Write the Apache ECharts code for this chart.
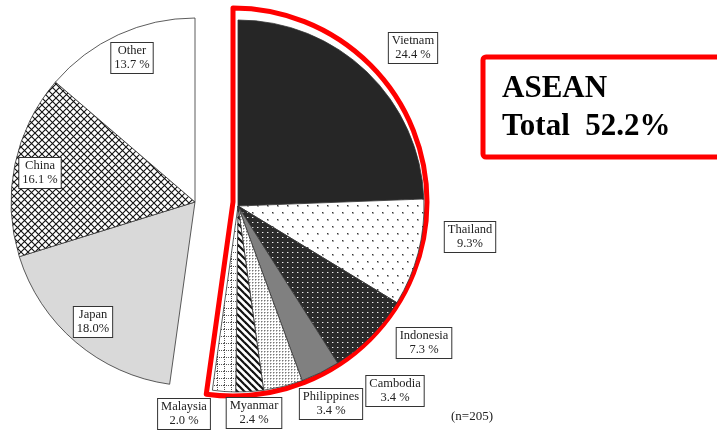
<!DOCTYPE html>
<html>
<head>
<meta charset="utf-8">
<script src="https://cdn.jsdelivr.net/npm/echarts@6/dist/echarts.min.js"></script>
<style>
  html, body { margin: 0; padding: 0; background: #fff; }
  #chart { width: 717px; height: 430px; }
</style>
</head>
<body>
<div id="chart"></div>
<script>
// Share of respondents by country (%), n = 205
const aseanNames = ['Vietnam', 'Thailand', 'Indonesia', 'Cambodia', 'Philippines', 'Myanmar', 'Malaysia'];
const aseanShares = [24.4, 9.3, 7.3, 3.4, 3.4, 2.4, 2.0];
const restNames = ['Japan', 'China', 'Other'];
const restShares = [18.0, 16.1, 13.7];
const sampleSize = 205;

// separator between number and "%" in each label
const aseanPctSep = [' ', '', ' ', ' ', ' ', ' ', ' '];
const restPctSep = ['', ' ', ' '];

// ---- layout ----
const aseanCenter = [238, 206], aseanRadius = 186;
const restCenter = [195, 202], restRadius = 184;
const outlineCenter = [233, 202], outlineRadius = 194;
// label box centres, relative to their pie centre
const aseanLabelOffset = [[175, -158], [232, 31], [186, 137], [157, 185], [93, 198], [16, 207], [-54, 208]];
const restLabelOffset = [[-102, 120], [-155, -29], [-63, -144]];

// ---- fill patterns ----
function tile(w, h, draw) {
  const c = document.createElement('canvas');
  c.width = w; c.height = h;
  const g = c.getContext('2d');
  draw(g, w, h);
  return { image: c, repeat: 'repeat' };
}
const fills = {
  Vietnam: '#262626',
  Thailand: tile(10, 14, (g, w, h) => {
    g.fillStyle = '#fff'; g.fillRect(0, 0, w, h);
    g.fillStyle = '#aaa';
    g.fillRect(2, 2, 2, 2); g.fillRect(7, 9, 2, 2);
    g.fillStyle = '#333';
    g.fillRect(2, 2, 1, 1); g.fillRect(7, 9, 1, 1);
  }),
  Indonesia: tile(5, 5, (g, w, h) => {
    g.fillStyle = '#2b2b2b'; g.fillRect(0, 0, w, h);
    g.fillStyle = '#f0f0f0'; g.fillRect(2, 2, 1, 1);
    g.fillStyle = '#777'; g.fillRect(3, 2, 1, 1);
  }),
  Cambodia: '#808080',
  Philippines: tile(3, 3, (g, w, h) => {
    g.fillStyle = '#fff'; g.fillRect(0, 0, w, h);
    g.fillStyle = '#777'; g.fillRect(0, 0, 1, 1);
    g.fillStyle = '#bbb'; g.fillRect(1, 0, 1, 1); g.fillRect(0, 1, 1, 1);
  }),
  Myanmar: tile(7, 7, (g, w, h) => {
    g.fillStyle = '#fff'; g.fillRect(0, 0, w, h);
    g.strokeStyle = '#111'; g.lineWidth = 2.2;
    for (let k = -1; k <= 1; k++) {
      g.beginPath(); g.moveTo(k * w - 1, -1); g.lineTo(k * w + w + 1, h + 1); g.stroke();
    }
  }),
  Malaysia: tile(7, 7, (g, w, h) => {
    g.fillStyle = '#fff'; g.fillRect(0, 0, w, h);
    g.fillStyle = '#555';
    for (let i = 0; i < 7; i += 2) { g.fillRect(i, 0, 1, 1); g.fillRect(0, i, 1, 1); }
  }),
  Japan: '#d9d9d9',
  China: tile(7, 7, (g, w, h) => {
    g.fillStyle = '#fff'; g.fillRect(0, 0, w, h);
    g.strokeStyle = '#111'; g.lineWidth = 1.1;
    g.beginPath(); g.moveTo(0, 0); g.lineTo(w, h); g.moveTo(w, 0); g.lineTo(0, h); g.stroke();
  }),
  Other: '#ffffff'
};

const aseanTotal = Math.round(aseanShares.reduce((a, b) => a + b, 0) * 10) / 10;
const restTotal = Math.round(restShares.reduce((a, b) => a + b, 0) * 10) / 10;

const labelStyle = {
  show: true,
  position: 'inside',
  fontFamily: 'Liberation Serif',
  fontSize: 12.5,
  lineHeight: 14,
  color: '#222',
  backgroundColor: '#fff',
  borderColor: '#333',
  borderWidth: 1,
  padding: [1, 3],
  align: 'center'
};
const sliceStyle = { borderColor: '#333', borderWidth: 0.8 };
const gap = { itemStyle: { color: 'rgba(0,0,0,0)', borderWidth: 0 }, label: { show: false } };

function slices(names, shares, seps) {
  return names.map((n, i) => ({
    name: n,
    value: shares[i],
    pctText: shares[i].toFixed(1) + seps[i] + '%',
    itemStyle: Object.assign({ color: fills[n] }, sliceStyle)
  }));
}

function placeAt(center, offsets) {
  return function (p) {
    const o = offsets[p.dataIndex];
    if (!o) return {};
    return { x: center[0] + o[0], y: center[1] + o[1], align: 'center', verticalAlign: 'middle' };
  };
}

const chart = echarts.init(document.getElementById('chart'), null, { renderer: 'canvas' });
chart.setOption({
  animation: false,
  backgroundColor: '#fff',
  series: [
    {
      // red outline round the ASEAN block
      type: 'pie', silent: true, z: 1,
      center: outlineCenter, radius: outlineRadius,
      startAngle: 90, clockwise: true,
      label: { show: false }, labelLine: { show: false },
      data: [
        { name: 'ASEAN', value: aseanTotal,
          itemStyle: { color: 'rgba(0,0,0,0)', borderColor: '#ff0000', borderWidth: 5, borderJoin: 'round' } },
        Object.assign({ name: 'rest', value: restTotal }, gap)
      ]
    },
    {
      type: 'pie', silent: true, z: 2,
      center: aseanCenter, radius: aseanRadius,
      startAngle: 90, clockwise: true,
      avoidLabelOverlap: false,
      label: Object.assign({ formatter: p => p.name + '\n' + p.data.pctText }, labelStyle),
      labelLine: { show: false },
      labelLayout: placeAt(aseanCenter, aseanLabelOffset),
      data: slices(aseanNames, aseanShares, aseanPctSep)
        .concat([Object.assign({ name: 'rest', value: restTotal }, gap)])
    },
    {
      type: 'pie', silent: true, z: 2,
      center: restCenter, radius: restRadius,
      startAngle: 90, clockwise: true,
      avoidLabelOverlap: false,
      label: Object.assign({ formatter: p => p.name + '\n' + p.data.pctText }, labelStyle),
      labelLine: { show: false },
      labelLayout: function (p) {
        return placeAt(restCenter, [null].concat(restLabelOffset))(p);
      },
      data: [Object.assign({ name: 'ASEAN', value: aseanTotal }, gap)]
        .concat(slices(restNames, restShares, restPctSep))
    }
  ],
  graphic: [
    {
      type: 'rect', z: 10,
      shape: { x: 483, y: 57, width: 245, height: 100, r: 3 },
      style: { fill: '#fff', stroke: '#ff0000', lineWidth: 5 }
    },
    {
      type: 'text', z: 11, x: 502, y: 89,
      style: { text: 'ASEAN', font: 'bold 31px "Liberation Serif"', fill: '#000', verticalAlign: 'middle' }
    },
    {
      type: 'text', z: 11, x: 502, y: 127,
      style: { text: 'Total  ' + aseanTotal.toFixed(1) + '%', font: 'bold 31px "Liberation Serif"', fill: '#000', verticalAlign: 'middle' }
    },
    {
      type: 'text', z: 11, x: 472, y: 417,
      style: { text: '(n=' + sampleSize + ')', font: '13px "Liberation Serif"', fill: '#222', align: 'center', verticalAlign: 'middle' }
    }
  ]
});
</script>
</body>
</html>
